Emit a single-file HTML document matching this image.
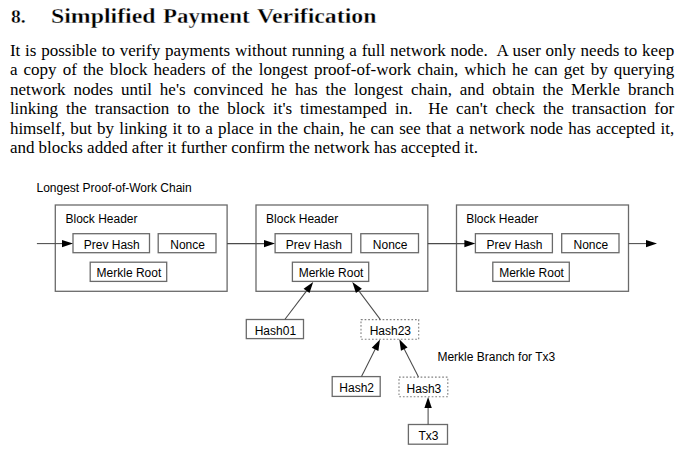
<!DOCTYPE html>
<html><head><meta charset="utf-8">
<style>
html,body{margin:0;padding:0;background:#fff;}
body{width:690px;height:454px;position:relative;overflow:hidden;color:#000;}
.h{position:absolute;top:0;left:0;font-family:"Liberation Serif",serif;font-weight:bold;font-size:20px;white-space:nowrap;-webkit-text-stroke:0.3px #fff;}
.h span{position:absolute;top:5.1px;display:inline-block;transform-origin:0 0;}
.p{position:absolute;left:9.9px;top:40.5px;width:664.3px;font-family:"Liberation Serif",serif;font-size:17px;line-height:19.5px;}
.p div{text-align:justify;text-align-last:justify;height:19.5px;white-space:nowrap;}
.p div.last{text-align-last:left;word-spacing:-0.1px;}
svg{position:absolute;left:0;top:0;}
svg text{font-family:"Liberation Sans",sans-serif;font-size:12px;fill:#000;}
</style></head>
<body>
<div class="h"><span style="left:10.6px;transform:scale(0.98,0.94);transform-origin:0 80%">8.</span><span style="left:51.3px;transform:scaleX(1.19)">Simplified</span><span style="left:162.8px;transform:scaleX(1.146)">Payment</span><span style="left:257px;transform:scaleX(1.19)">Verification</span></div>
<div class="p">
<div>It is possible to verify payments without running a full network node.&nbsp; A user only needs to keep</div>
<div>a copy of the block headers of the longest proof-of-work chain, which he can get by querying</div>
<div>network nodes until he's convinced he has the longest chain, and obtain the Merkle branch</div>
<div>linking the transaction to the block it's timestamped in.&nbsp; He can't check the transaction for</div>
<div>himself, but by linking it to a place in the chain, he can see that a network node has accepted it,</div>
<div class="last">and blocks added after it further confirm the network has accepted it.</div>
</div>
<svg width="690" height="454" viewBox="0 0 690 454">
<g fill="none" stroke="#6a6a6a" stroke-width="1.3">
<rect x="55.30" y="205.00" width="171.80" height="86.30"/>
<rect x="256.00" y="205.00" width="171.80" height="86.30"/>
<rect x="456.50" y="205.00" width="172.00" height="86.30"/>
<rect x="73.00" y="233.70" width="76.50" height="19.00"/>
<rect x="158.20" y="233.70" width="57.80" height="19.00"/>
<rect x="90.20" y="262.20" width="76.50" height="19.20"/>
<rect x="275.10" y="233.70" width="76.40" height="19.00"/>
<rect x="360.80" y="233.70" width="57.70" height="19.00"/>
<rect x="292.40" y="262.20" width="76.30" height="19.20"/>
<rect x="475.40" y="233.70" width="77.00" height="19.00"/>
<rect x="561.70" y="233.70" width="57.30" height="19.00"/>
<rect x="492.80" y="262.20" width="76.50" height="19.20"/>
<rect x="246.30" y="319.50" width="57.20" height="19.10"/>
<rect x="361.00" y="319.60" width="57.70" height="19.70" stroke-dasharray="1.7,1.9" stroke="#808080" stroke-width="1.1"/>
<rect x="332.20" y="376.60" width="48.00" height="19.80"/>
<rect x="399.00" y="377.10" width="48.80" height="19.60" stroke-dasharray="1.7,1.9" stroke="#808080" stroke-width="1.1"/>
<rect x="408.40" y="424.50" width="39.10" height="19.70"/>
</g>
<g stroke="#4a4a4a" stroke-width="1.05" fill="none">
<line x1="36.90" y1="243.60" x2="63.00" y2="243.60"/>
<path d="M73.00,243.60 L62.00,247.30 L62.00,239.90 Z" fill="#000" stroke="none"/>
<line x1="227.10" y1="243.60" x2="265.00" y2="243.60"/>
<path d="M275.00,243.60 L264.00,247.30 L264.00,239.90 Z" fill="#000" stroke="none"/>
<line x1="427.80" y1="243.60" x2="465.40" y2="243.60"/>
<path d="M475.40,243.60 L464.40,247.30 L464.40,239.90 Z" fill="#000" stroke="none"/>
<line x1="628.50" y1="243.60" x2="647.00" y2="243.60"/>
<path d="M657.00,243.60 L646.00,247.30 L646.00,239.90 Z" fill="#000" stroke="none"/>
<line x1="285.00" y1="319.30" x2="307.16" y2="290.07"/>
<path d="M313.20,282.10 L309.50,293.10 L303.61,288.63 Z" fill="#000" stroke="none"/>
<line x1="380.40" y1="319.60" x2="358.30" y2="290.10"/>
<path d="M352.30,282.10 L361.86,288.68 L355.94,293.12 Z" fill="#000" stroke="none"/>
<line x1="361.50" y1="376.60" x2="375.53" y2="348.54"/>
<path d="M380.00,339.60 L378.39,351.09 L371.77,347.78 Z" fill="#000" stroke="none"/>
<line x1="418.50" y1="377.10" x2="403.83" y2="348.22"/>
<path d="M399.30,339.30 L407.58,347.43 L400.98,350.78 Z" fill="#000" stroke="none"/>
<line x1="428.10" y1="424.50" x2="428.10" y2="407.00"/>
<path d="M428.10,397.00 L431.80,408.00 L424.40,408.00 Z" fill="#000" stroke="none"/>
</g>
<text x="65.50" y="223.40" text-anchor="start">Block Header</text>
<text x="111.75" y="248.60" text-anchor="middle">Prev Hash</text>
<text x="187.60" y="248.60" text-anchor="middle">Nonce</text>
<text x="128.95" y="277.40" text-anchor="middle">Merkle Root</text>
<text x="266.10" y="223.40" text-anchor="start">Block Header</text>
<text x="313.80" y="248.60" text-anchor="middle">Prev Hash</text>
<text x="390.15" y="248.60" text-anchor="middle">Nonce</text>
<text x="331.05" y="277.40" text-anchor="middle">Merkle Root</text>
<text x="466.20" y="223.40" text-anchor="start">Block Header</text>
<text x="514.40" y="248.60" text-anchor="middle">Prev Hash</text>
<text x="590.85" y="248.60" text-anchor="middle">Nonce</text>
<text x="531.55" y="277.40" text-anchor="middle">Merkle Root</text>
<text x="275.40" y="335.00" text-anchor="middle">Hash01</text>
<text x="390.35" y="335.30" text-anchor="middle">Hash23</text>
<text x="356.70" y="392.40" text-anchor="middle">Hash2</text>
<text x="423.90" y="392.60" text-anchor="middle">Hash3</text>
<text x="428.45" y="440.20" text-anchor="middle">Tx3</text>
<text x="36.50" y="192.00" text-anchor="start">Longest Proof-of-Work Chain</text>
<text x="437.40" y="360.70" text-anchor="start">Merkle Branch for Tx3</text>
</svg>
</body></html>
